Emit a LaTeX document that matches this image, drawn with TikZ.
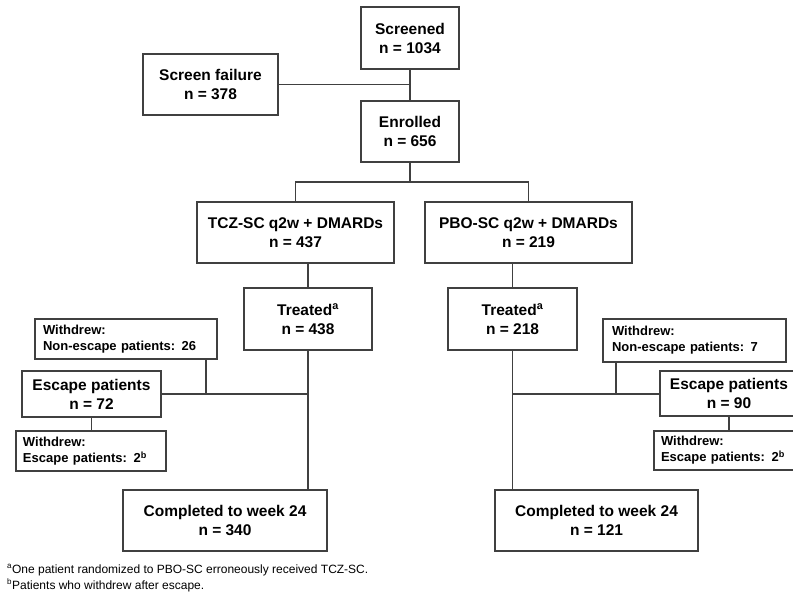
\documentclass[tikz,border=0pt]{standalone}
\usepackage{fontspec}
\setmainfont{Liberation Sans}
\definecolor{linecol}{HTML}{404040}
\begin{document}
\begin{tikzpicture}[x=1pt,y=-1pt,
  box/.style={draw=linecol, line width=1.5pt, fill=white, align=center, inner sep=0pt,
    font=\bfseries\fontsize{15.5}{19}\selectfont},
  sbox/.style={draw=linecol, line width=1.5pt, fill=white, align=left, inner xsep=8pt, inner ysep=0pt,
    font=\bfseries\fontsize{13}{16}\selectfont},
  conn/.style={draw=linecol, line width=1.5pt},
  foot/.style={anchor=base west, inner sep=0pt, font=\fontsize{12}{14}\selectfont}]
\useasboundingbox (0,0) rectangle (793,596);
\clip (0,0) rectangle (793,596);
\fill[white] (0,0) rectangle (793,596);

% nodes
\node[box, minimum width=98, minimum height=62] (scr) at (410,38) {Screened\\n = 1034};
\node[box, minimum width=135, minimum height=61] (sf) at (210.5,84.5) {Screen failure\\n = 378};
\node[box, minimum width=98, minimum height=61] (enr) at (410,131.5) {Enrolled\\n = 656};
\node[box, minimum width=197, minimum height=61] (tcz) at (295.5,232.5) {TCZ-SC q2w + DMARDs\\n = 437};
\node[box, minimum width=207, minimum height=61] (pbo) at (528.5,232.5) {PBO-SC q2w + DMARDs\\n = 219};
\node[box, minimum width=128, minimum height=62] (trtL) at (308,319) {Treated\textsuperscript{a}\\n = 438};
\node[box, minimum width=129, minimum height=62] (trtR) at (512.5,319) {Treated\textsuperscript{a}\\n = 218};
\node[sbox, minimum width=182, minimum height=40, text width=166] (wdL) at (126,339) {Withdrew:\\Non-escape patients: 26};
\node[sbox, minimum width=183, minimum height=43, text width=165, inner xsep=9pt] (wdR) at (694.5,340.5) {Withdrew:\\Non-escape patients: 7};
\node[box, minimum width=139, minimum height=46] (escL) at (91.5,394) {Escape patients\\n = 72};
\node[box, minimum width=138, minimum height=45] (escR) at (729,393.5) {Escape patients\\n = 90};
\node[sbox, minimum width=150, minimum height=40, text width=136, inner xsep=7pt] (wd2L) at (91,451) {Withdrew:\\Escape patients: 2\textsuperscript{b}};
\node[sbox, minimum width=150, minimum height=39, text width=136, inner xsep=7pt] (wd2R) at (729,450.5) {Withdrew:\\Escape patients: 2\textsuperscript{b}};
\node[box, minimum width=204, minimum height=61] (compL) at (225,520.5) {Completed to week 24\\n = 340};
\node[box, minimum width=203, minimum height=61] (compR) at (596.5,520.5) {Completed to week 24\\n = 121};

\node[foot] (fn1) at (7,573) {\textsuperscript{a}One patient randomized to PBO-SC erroneously received TCZ-SC.};
\node[foot] (fn2) at (7,589) {\textsuperscript{b}Patients who withdrew after escape.};

% connectors
\coordinate (split) at (410,182);
\coordinate (jL) at (206,394);
\coordinate (jR) at (616,394);
\draw[conn] (scr.south) -- (enr.north);
\draw[conn] (sf.east) -- (sf.east -| scr.south);
\draw[conn] (enr.south) -- (split);
\draw[conn] (tcz.north) |- (split) -| (pbo.north);
\draw[conn] (tcz.south -| trtL.north) -- (trtL.north);
\draw[conn] (pbo.south -| trtR.north) -- (trtR.north);
\draw[conn] (trtL.south) -- (trtL.south |- compL.north);
\draw[conn] (trtR.south) -- (trtR.south |- compR.north);
\draw[conn] (escL.east) -- (escL.east -| trtL.south);
\draw[conn] (escR.west |- jR) -- (jR -| trtR.south);
\draw[conn] (wdL.south -| jL) -- (jL);
\draw[conn] (wdR.south -| jR) -- (jR);
\draw[conn] (escL.south) -- (escL.south |- wd2L.north);
\draw[conn] (escR.south) -- (escR.south |- wd2R.north);
\end{tikzpicture}
\end{document}
